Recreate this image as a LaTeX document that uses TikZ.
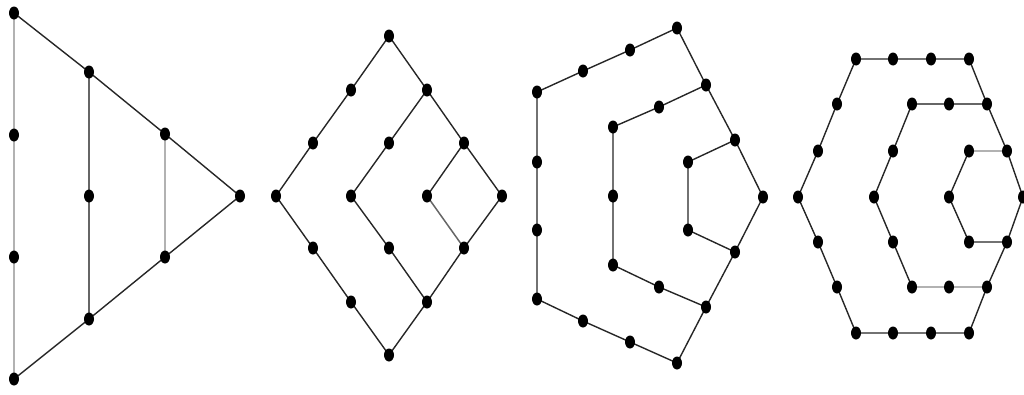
\documentclass[tikz,border=0pt]{standalone}
\usetikzlibrary{shapes.geometric}
\begin{document}
\begin{tikzpicture}[x=1pt,y=-1pt,
  dot/.style={ellipse,fill=black,draw=none,inner sep=0pt,minimum width=10pt,minimum height=13pt},
  ln/.style={draw=black!85,line width=1.4pt},
  mln/.style={draw=black!60,line width=1.5pt},
  gln/.style={draw=black!30,line width=2.1pt}]
\useasboundingbox (0,0) rectangle (1024,394);
% ---------- triangle ----------
\foreach \n/\x/\y in {t1/14/13, t2/14/135, t3/14/257, t4/14/379,
  t5/89/72, t6/89/196, t7/89/319, t8/165/134, t9/165/257, t10/240/196}
  \coordinate (\n) at (\x,\y);
\draw[gln] (t1) -- (t4);
\draw[mln] (t5) -- (t7);
\draw[gln] (t8) -- (t9);
\draw[ln] (t1) -- (t5) -- (t8) -- (t10) -- (t9) -- (t7) -- (t4);
\foreach \n in {t1,t2,t3,t4,t5,t6,t7,t8,t9,t10} \node[dot] (d\n) at (\n) {};
% ---------- diamond ----------
\foreach \n/\x/\y in {q1/389/36, q2/351/90, q3/313/143, q4/276/196, q5/313/248,
  q6/351/302, q7/389/355, q8/427/302, q9/464/248, q10/502/196, q11/464/143,
  q12/427/90, q13/389/143, q14/351/196, q15/389/248, q16/427/196}
  \coordinate (\n) at (\x,\y);
\draw[ln] (q1) -- (q2) -- (q3) -- (q4) -- (q5) -- (q6) -- (q7) -- (q8) -- (q9)
  -- (q10) -- (q11) -- (q12) -- (q1);
\draw[ln] (q12) -- (q13) -- (q14) -- (q15) -- (q8);
\draw[ln] (q11) -- (q16);
\draw[mln] (q16) -- (q9);
\foreach \n in {q1,q2,q3,q4,q5,q6,q7,q8,q9,q10,q11,q12,q13,q14,q15,q16} \node[dot] (d\n) at (\n) {};
% ---------- pentagon ----------
\foreach \n/\x/\y in {p1/677/28, p2/630/50, p3/583/71, p4/537/92, p5/537/162,
  p6/537/230, p7/537/299, p8/583/321, p9/630/342, p10/677/363,
  p11/706/85, p12/735/140, p13/763/197, p14/735/252, p15/706/307,
  p16/659/107, p17/613/127, p18/613/196, p19/613/265, p20/659/287,
  p21/688/162, p22/688/230}
  \coordinate (\n) at (\x,\y);
\draw[ln] (p1) -- (p2) -- (p3) -- (p4) -- (p5) -- (p6) -- (p7) -- (p8) -- (p9) -- (p10)
  -- (p15) -- (p14) -- (p13) -- (p12) -- (p11) -- (p1);
\draw[ln] (p11) -- (p16) -- (p17) -- (p18) -- (p19) -- (p20) -- (p15);
\draw[ln] (p12) -- (p21) -- (p22) -- (p14);
\foreach \n in {p1,p2,p3,p4,p5,p6,p7,p8,p9,p10,p11,p12,p13,p14,p15,p16,p17,p18,p19,p20,p21,p22} \node[dot] (d\n) at (\n) {};
% ---------- hexagon ----------
\foreach \n/\x/\y in {h1/856/59, h2/893/59, h3/931/59, h4/969/59,
  h5/837/104, h6/818/151, h7/798/197, h8/818/242, h9/837/287,
  h10/856/333, h11/893/333, h12/931/333, h13/969/333,
  h14/987/104, h15/1007/151, h16/1023/197, h17/1007/242, h18/987/287,
  h19/912/104, h20/949/104, h21/893/151, h22/874/197, h23/893/242,
  h24/912/287, h25/949/287, h26/969/151, h27/949/197, h28/969/242}
  \coordinate (\n) at (\x,\y);
\draw[ln] (h4) -- (h3) -- (h2) -- (h1) -- (h5) -- (h6) -- (h7) -- (h8) -- (h9) -- (h10)
  -- (h11) -- (h12) -- (h13) -- (h18) -- (h17) -- (h16) -- (h15) -- (h14) -- (h4);
\draw[mln] (h14) -- (h20) -- (h19);
\draw[ln] (h19) -- (h21) -- (h22) -- (h23) -- (h24);
\draw[gln] (h24) -- (h25) -- (h18);
\draw[gln] (h15) -- (h26);
\draw[ln] (h26) -- (h27) -- (h28) -- (h17);
\foreach \n in {h1,h2,h3,h4,h5,h6,h7,h8,h9,h10,h11,h12,h13,h14,h15,h16,h17,h18,h19,h20,h21,h22,h23,h24,h25,h26,h27,h28} \node[dot] (d\n) at (\n) {};
\end{tikzpicture}
\end{document}
